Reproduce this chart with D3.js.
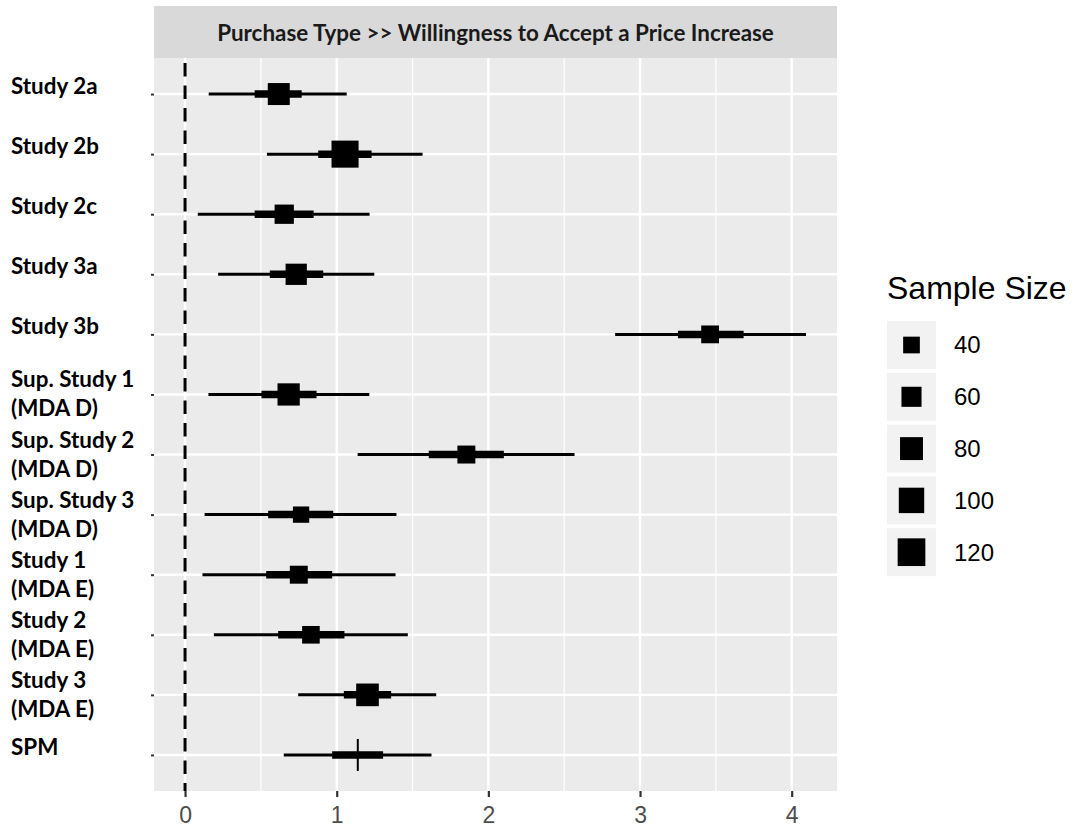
<!DOCTYPE html>
<html>
<head>
<meta charset="utf-8">
<script src="https://cdn.jsdelivr.net/npm/d3@7"></script>
<style>
  html, body { margin: 0; padding: 0; background: #ffffff; }
  svg { display: block; }
</style>
</head>
<body>
<svg id="chart" width="1074" height="832"></svg>
<script>
// Study labels, top to bottom (line breaks split a label over two lines)
const studies = [
  "Study 2a", "Study 2b", "Study 2c", "Study 3a", "Study 3b",
  "Sup. Study 1\n(MDA D)", "Sup. Study 2\n(MDA D)", "Sup. Study 3\n(MDA D)",
  "Study 1\n(MDA E)", "Study 2\n(MDA E)", "Study 3\n(MDA E)", "SPM"
];
// Point estimates
const estimate = [0.618, 1.055, 0.654, 0.733, 3.462, 0.683, 1.855, 0.765, 0.750, 0.830, 1.203, 1.139];
// Outer interval (thin line)
const lowerOuter = [0.156, 0.540, 0.084, 0.218, 2.836, 0.154, 1.138, 0.129, 0.115, 0.190, 0.746, 0.651];
const upperOuter = [1.066, 1.566, 1.217, 1.248, 4.094, 1.215, 2.568, 1.394, 1.388, 1.469, 1.656, 1.625];
// Inner interval (thick line)
const lowerInner = [0.459, 0.878, 0.459, 0.559, 3.250, 0.504, 1.607, 0.548, 0.535, 0.614, 1.047, 0.970];
const upperInner = [0.769, 1.230, 0.848, 0.911, 3.683, 0.867, 2.102, 0.977, 0.970, 1.051, 1.359, 1.306];
// Sample size per study (pooled estimate has none)
const sampleSize = [73, 114, 55, 68, 46, 75, 47, 38, 47, 45, 78, null];
// Axis ticks and legend breaks
const xTicks = [0, 1, 2, 3, 4];
const xMinorTicks = [0.5, 1.5, 2.5, 3.5];
const sizeBreaks = [40, 60, 80, 100, 120];
const stripTitle = "Purchase Type >> Willingness to Accept a Price Increase";
const legendTitle = "Sample Size";

const rows = studies.map((label, i) => ({
  label, est: estimate[i], lo: lowerOuter[i], hi: upperOuter[i],
  lo2: lowerInner[i], hi2: upperInner[i], n: sampleSize[i]
}));

const svg = d3.select("#chart");
const panel = { left: 154, right: 837, top: 58, bottom: 791 };
const strip = { top: 6, bottom: 58 };
const labelFont = "Lato, 'Open Sans', sans-serif";
const plainFont = "'Liberation Sans', Arial, sans-serif";

// x domain: data range plus the 0 reference line, expanded by 5% each side
const xmin = Math.min(0, d3.min(lowerOuter));
const xmax = d3.max(upperOuter);
const pad = (xmax - xmin) * 0.05;
const x = d3.scaleLinear().domain([xmin - pad, xmax + pad]).range([panel.left, panel.right]);
const y = d3.scalePoint().domain(studies).range([panel.top, panel.bottom]).padding(0.6);
const size = d3.scaleSqrt().domain([40, 120]).range([16.7, 27.7]);

// Strip
svg.append("rect")
  .attr("x", panel.left).attr("y", strip.top)
  .attr("width", panel.right - panel.left).attr("height", strip.bottom - strip.top)
  .attr("fill", "#D9D9D9");
svg.append("text")
  .attr("x", (panel.left + panel.right) / 2).attr("y", 41)
  .attr("text-anchor", "middle")
  .attr("font-family", labelFont)
  .attr("font-weight", "bold").attr("font-size", 22.4)
  .attr("fill", "#1A1A1A")
  .text(stripTitle);

// Panel background
svg.append("rect")
  .attr("x", panel.left).attr("y", panel.top)
  .attr("width", panel.right - panel.left).attr("height", panel.bottom - panel.top)
  .attr("fill", "#EBEBEB");

const grid = svg.append("g");
grid.selectAll("line.minor").data(xMinorTicks).join("line")
  .attr("class", "minor")
  .attr("x1", d => x(d)).attr("x2", d => x(d))
  .attr("y1", panel.top).attr("y2", panel.bottom)
  .attr("stroke", "#FFFFFF").attr("stroke-width", 1.2);
grid.selectAll("line.majorx").data(xTicks).join("line")
  .attr("class", "majorx")
  .attr("x1", d => x(d)).attr("x2", d => x(d))
  .attr("y1", panel.top).attr("y2", panel.bottom)
  .attr("stroke", "#FFFFFF").attr("stroke-width", 2.4);
grid.selectAll("line.majory").data(studies).join("line")
  .attr("class", "majory")
  .attr("x1", panel.left).attr("x2", panel.right)
  .attr("y1", d => y(d)).attr("y2", d => y(d))
  .attr("stroke", "#FFFFFF").attr("stroke-width", 2.4);

// Reference line at zero
svg.append("line")
  .attr("x1", x(0)).attr("x2", x(0))
  .attr("y1", panel.top).attr("y2", panel.bottom)
  .attr("stroke", "#000000").attr("stroke-width", 3)
  .attr("stroke-dasharray", "13.5 9").attr("stroke-dashoffset", -5);

// Intervals and estimates
const marks = svg.append("g");
marks.selectAll("line.outer").data(rows).join("line")
  .attr("class", "outer")
  .attr("x1", d => x(d.lo)).attr("x2", d => x(d.hi))
  .attr("y1", d => y(d.label)).attr("y2", d => y(d.label))
  .attr("stroke", "#000").attr("stroke-width", 3);
marks.selectAll("line.inner").data(rows).join("line")
  .attr("class", "inner")
  .attr("x1", d => x(d.lo2)).attr("x2", d => x(d.hi2))
  .attr("y1", d => y(d.label)).attr("y2", d => y(d.label))
  .attr("stroke", "#000").attr("stroke-width", 7.5);
marks.selectAll("rect.est").data(rows.filter(d => d.n != null)).join("rect")
  .attr("class", "est")
  .attr("x", d => x(d.est) - size(d.n) / 2)
  .attr("y", d => y(d.label) - size(d.n) / 2)
  .attr("width", d => size(d.n)).attr("height", d => size(d.n))
  .attr("fill", "#000");
// Pooled estimate drawn as a vertical tick
marks.selectAll("line.pooled").data(rows.filter(d => d.n == null)).join("line")
  .attr("class", "pooled")
  .attr("x1", d => x(d.est)).attr("x2", d => x(d.est))
  .attr("y1", d => y(d.label) - 16).attr("y2", d => y(d.label) + 16)
  .attr("stroke", "#000").attr("stroke-width", 2);

// X axis
const xAxis = svg.append("g").attr("transform", `translate(0,${panel.bottom})`)
  .call(d3.axisBottom(x).tickValues(xTicks).tickSize(6).tickPadding(10).tickFormat(d3.format("d")));
xAxis.select(".domain").remove();
xAxis.selectAll(".tick line").attr("stroke", "#333333").attr("stroke-width", 2.2);
xAxis.selectAll(".tick text")
  .attr("fill", "#4D4D4D").attr("font-size", 23)
  .attr("font-family", plainFont);

// Y axis ticks
const yAxis = svg.append("g").attr("transform", `translate(${panel.left},0)`)
  .call(d3.axisLeft(y).tickSize(3).tickFormat(""));
yAxis.select(".domain").remove();
yAxis.selectAll(".tick line").attr("stroke", "#333333").attr("stroke-width", 2);

// Y labels, bold, left aligned; two-line labels straddle their row
const labelG = svg.append("g")
  .attr("font-family", labelFont)
  .attr("font-weight", "bold").attr("font-size", 22.4).attr("fill", "#000");
rows.forEach(d => {
  const lines = d.label.split("\n");
  const yy = y(d.label);
  const t = labelG.append("text").attr("x", 11);
  if (lines.length === 1) {
    t.attr("y", yy).text(lines[0]);
  } else {
    lines.forEach((ln, k) => {
      t.append("tspan").attr("x", 11).attr("y", yy - 7 + k * 29).text(ln);
    });
  }
});

// Legend
const legend = svg.append("g");
legend.append("text")
  .attr("x", 887).attr("y", 299)
  .attr("font-family", plainFont)
  .attr("font-size", 32).attr("fill", "#000")
  .text(legendTitle);
const key = legend.selectAll("g.key").data(sizeBreaks).join("g")
  .attr("class", "key")
  .attr("transform", (d, i) => `translate(887,${321 + i * 51.8})`);
key.append("rect")
  .attr("width", 49).attr("height", 48)
  .attr("fill", "#F2F2F2");
key.append("rect")
  .attr("x", d => 24.5 - size(d) / 2).attr("y", d => 24 - size(d) / 2)
  .attr("width", d => size(d)).attr("height", d => size(d))
  .attr("fill", "#000");
key.append("text")
  .attr("x", 67).attr("y", 24).attr("dy", "0.35em")
  .attr("font-family", plainFont)
  .attr("font-size", 24).attr("fill", "#000")
  .text(d => d);
</script>
</body>
</html>
